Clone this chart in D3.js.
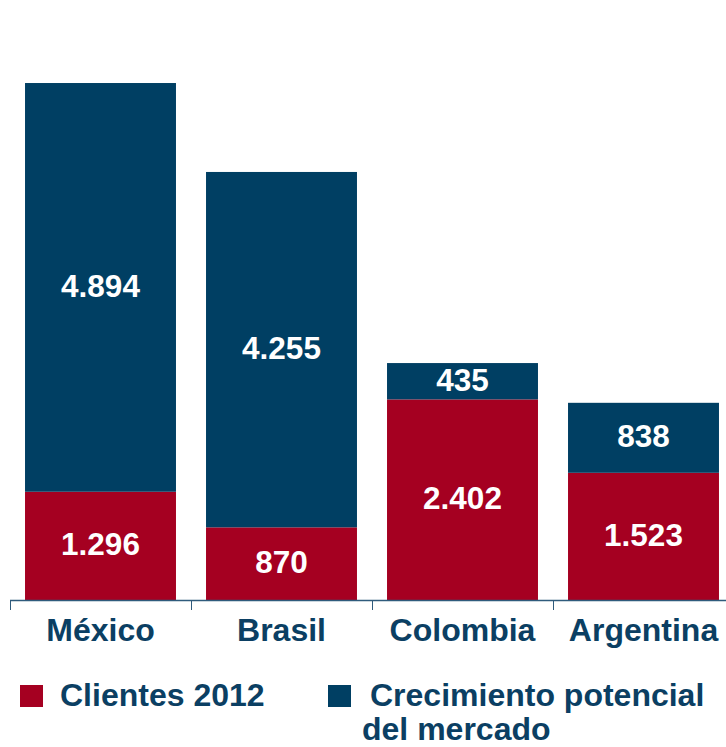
<!DOCTYPE html>
<html>
<head>
<meta charset="utf-8">
<script src="https://cdn.jsdelivr.net/npm/d3@7"></script>
<style>
  html, body { margin: 0; padding: 0; background: #fff; }
  svg { display: block; }
  text { font-family: "Liberation Sans", Arial, sans-serif; font-weight: bold; }
</style>
</head>
<body>
<svg id="chart" width="726" height="747"></svg>
<script>
// Data
const countries = ["México", "Brasil", "Colombia", "Argentina"];
const clientes2012 = [1296, 870, 2402, 1523];
const crecimiento = [4894, 4255, 435, 838];
const seriesNames = ["Clientes 2012", "Crecimiento potencial del mercado"];
const seriesColors = ["#A50021", "#003F63"];

const textColor = "#0B3F63";
const axisColor = "#2F5B7C";

const svg = d3.select("#chart");
const W = 726, baseY = 600;

const locale = d3.formatLocale({ decimal: ",", thousands: ".", grouping: [3], currency: ["", ""] });
const fmt = locale.format(",d");

const x = d3.scaleBand()
  .domain(countries)
  .range([10, 734])
  .paddingInner(0.166)
  .paddingOuter(0.083);

const y = d3.scaleLinear().domain([0, 7184]).range([baseY, 0]);

const rows = countries.map((c, i) => ({ c, a: clientes2012[i], b: crecimiento[i] }));
const stack = d3.stack().keys(["a", "b"])(rows);

// Stacked bars
const layers = svg.selectAll("g.layer").data(stack).join("g")
  .attr("class", "layer")
  .attr("fill", (d, i) => seriesColors[i]);

layers.selectAll("rect").data(d => d).join("rect")
  .attr("x", d => x(d.data.c))
  .attr("width", x.bandwidth())
  .attr("y", d => y(d[1]))
  .attr("height", d => y(d[0]) - y(d[1]));

// Value labels centered in each segment
layers.selectAll("text").data(d => d.map(s => ({ s, v: s[1] - s[0] }))).join("text")
  .attr("x", d => x(d.s.data.c) + x.bandwidth() / 2)
  .attr("y", d => (y(d.s[0]) + y(d.s[1])) / 2)
  .attr("dy", "0.3em")
  .attr("text-anchor", "middle")
  .attr("fill", "#fff")
  .attr("font-size", 31.5)
  .text(d => fmt(d.v));

// Category axis
const step = x.step();
const gap = step * x.paddingInner();
svg.append("line")
  .attr("x1", 10).attr("x2", W)
  .attr("y1", baseY + 0.5).attr("y2", baseY + 0.5)
  .attr("stroke", axisColor).attr("stroke-width", 1.5);

svg.selectAll("line.tick").data(countries).join("line")
  .attr("class", "tick")
  .attr("x1", d => Math.round(x(d) - gap / 2) + 0.5)
  .attr("x2", d => Math.round(x(d) - gap / 2) + 0.5)
  .attr("y1", baseY).attr("y2", baseY + 10)
  .attr("stroke", axisColor).attr("stroke-width", 1);

svg.selectAll("text.cat").data(countries).join("text")
  .attr("class", "cat")
  .attr("x", d => x(d) + x.bandwidth() / 2)
  .attr("y", 641)
  .attr("text-anchor", "middle")
  .attr("fill", textColor)
  .attr("font-size", 32)
  .text(d => d);

// Legend
const legend = [
  { color: seriesColors[0], sx: 20, tx: 60, lines: [seriesNames[0]] },
  { color: seriesColors[1], sx: 328, tx: 370, lines: ["Crecimiento potencial", "del mercado"] }
];
const lg = svg.selectAll("g.legend").data(legend).join("g").attr("class", "legend");
lg.append("rect")
  .attr("x", d => d.sx).attr("y", 685)
  .attr("width", 23).attr("height", 22)
  .attr("fill", d => d.color);
lg.each(function (d) {
  const t = d3.select(this).append("text")
    .attr("fill", textColor)
    .attr("font-size", 32);
  d.lines.forEach((line, i) => {
    t.append("tspan")
      .attr("x", i === 0 ? d.tx : d.tx - 8)
      .attr("y", 706 + i * 34)
      .text(line);
  });
});
</script>
</body>
</html>
